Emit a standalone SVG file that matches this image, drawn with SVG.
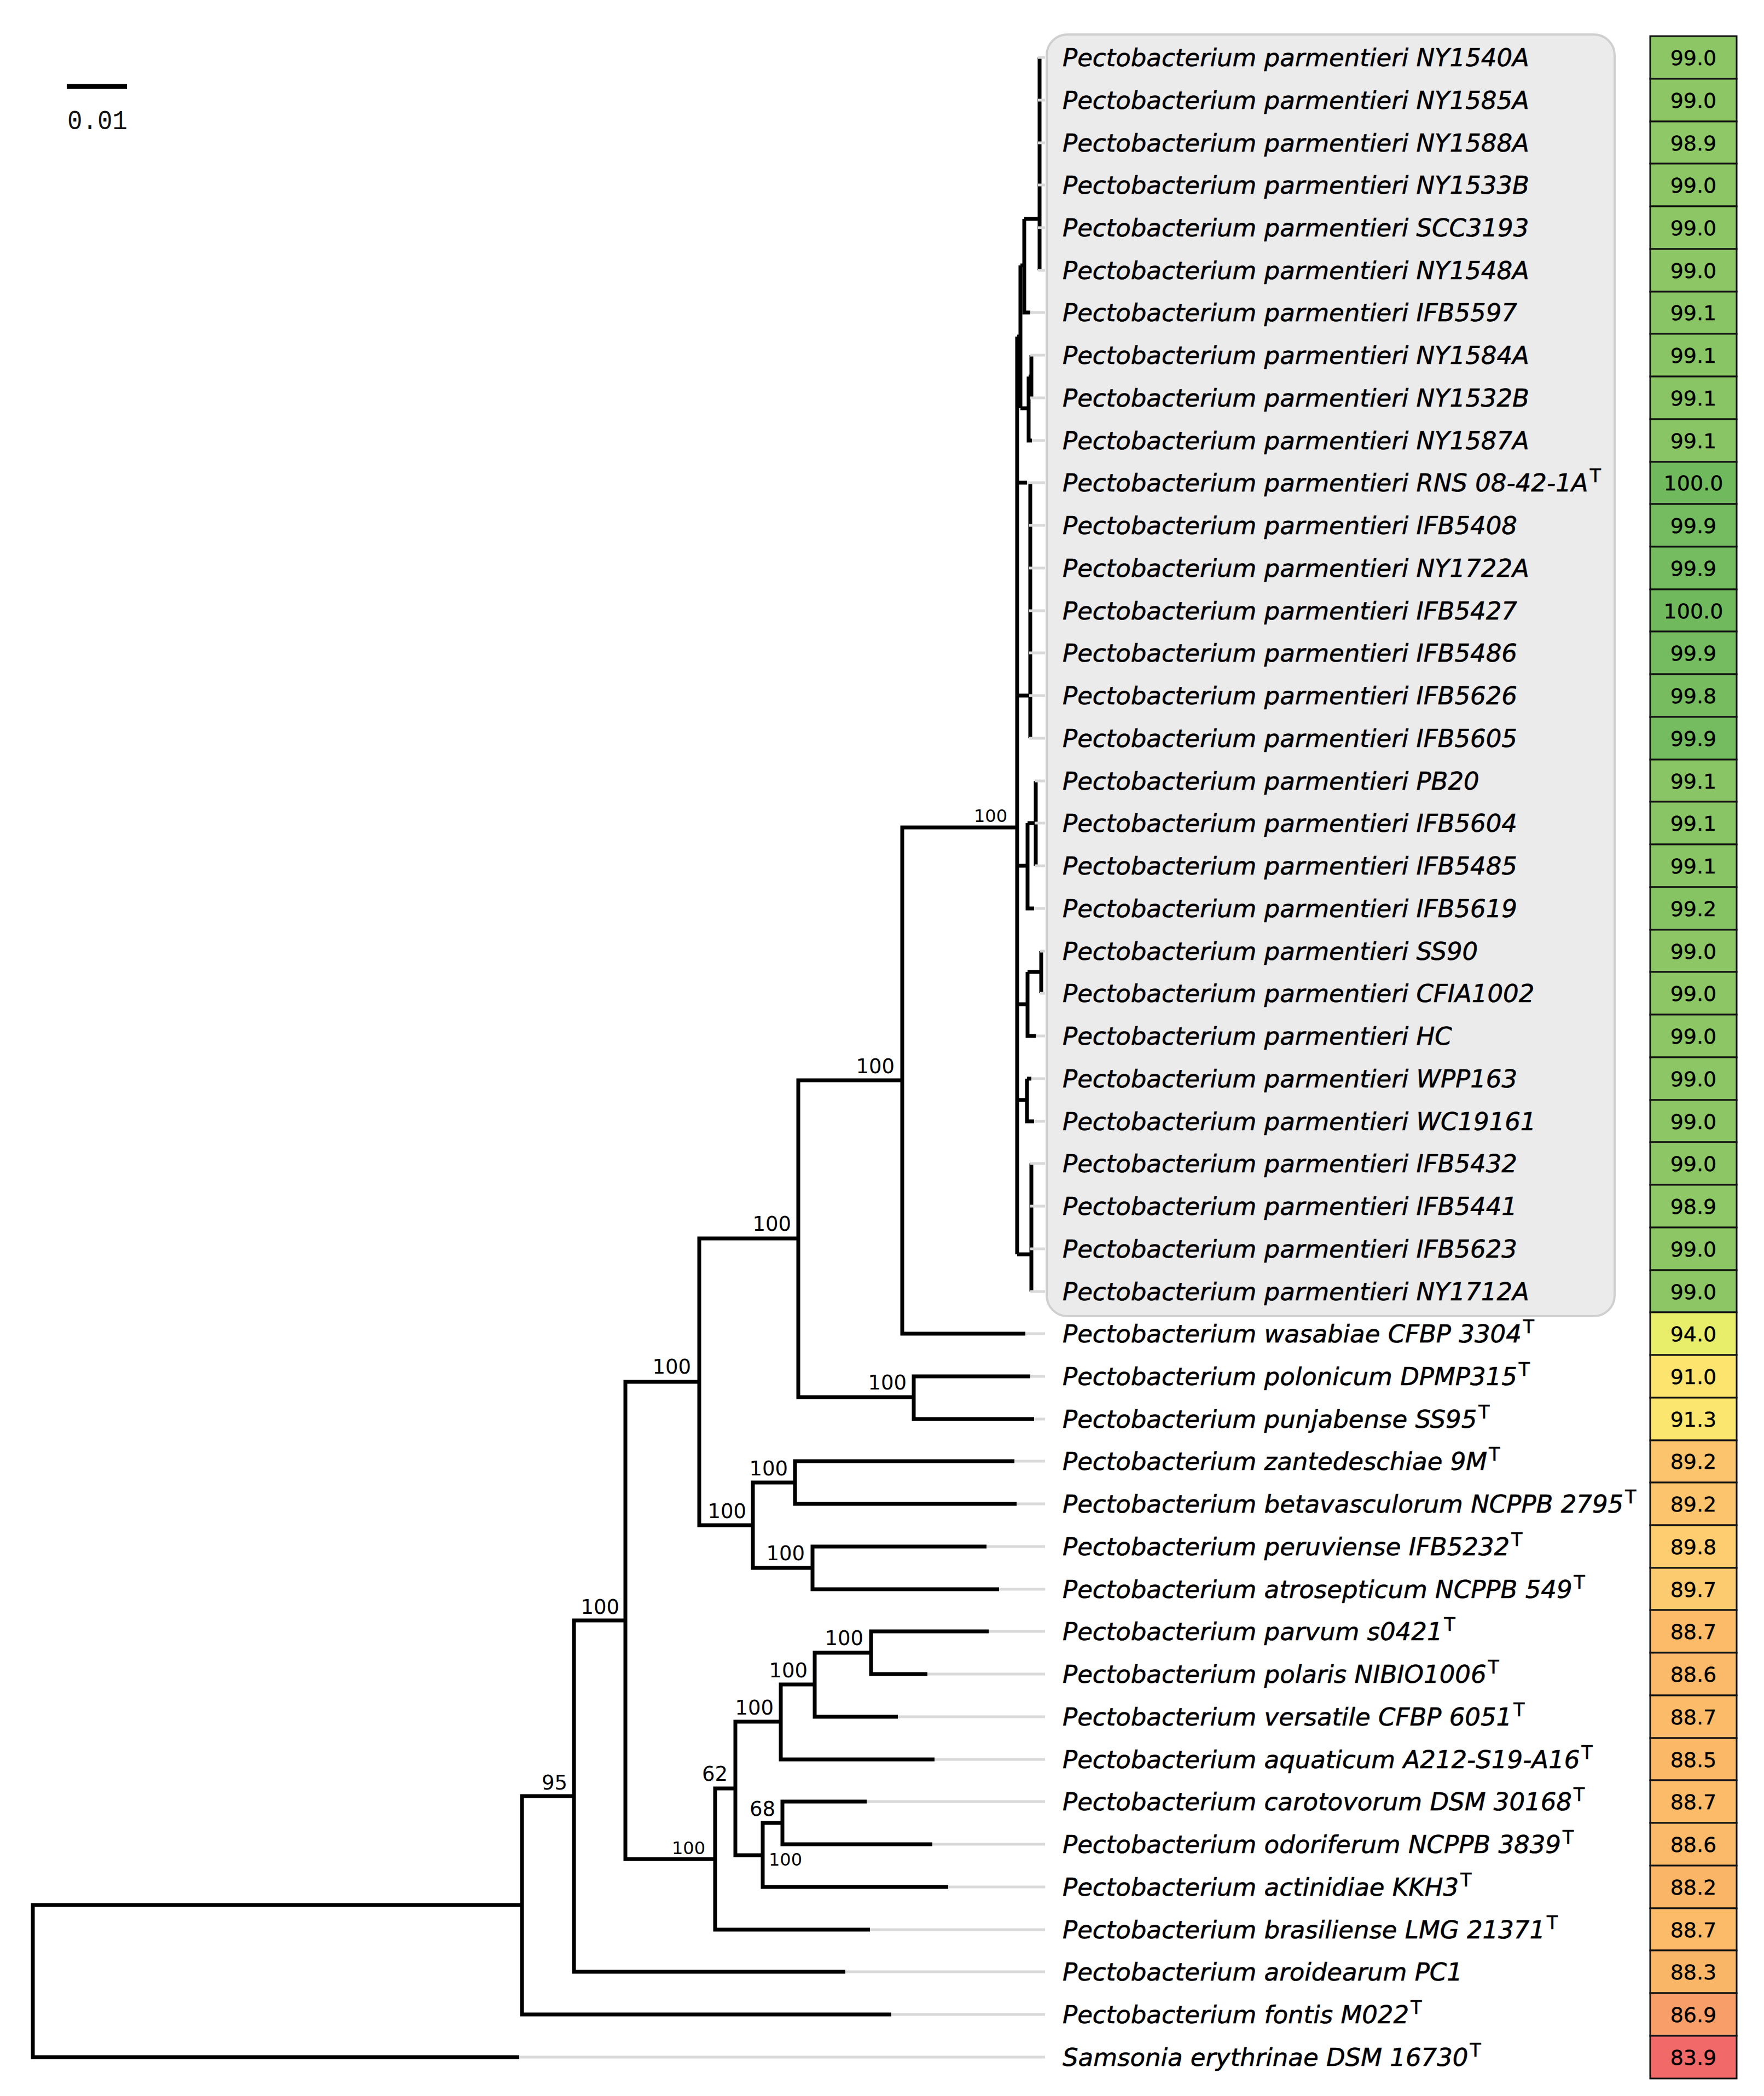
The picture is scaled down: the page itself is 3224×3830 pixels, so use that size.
<svg xmlns="http://www.w3.org/2000/svg" width="3224" height="3830" viewBox="0 0 3224 3830">
<style>
.br{fill:none;stroke:#000;stroke-width:7;stroke-linejoin:miter;stroke-linecap:butt}
.tip{fill:none;stroke:#d9d9d9;stroke-width:5}
.lbl{font-family:'DejaVu Sans',sans-serif;font-style:italic;font-size:45px;fill:#000;stroke:#000;stroke-width:0.6}
.sup{font-size:33px;font-style:normal}
.num{font-family:'DejaVu Sans',sans-serif;font-size:38px;text-anchor:middle;fill:#000;stroke:#000;stroke-width:0.4}
.bs{font-family:'DejaVu Sans',sans-serif;font-size:37px;text-anchor:end;fill:#000}
.bss{font-size:32px}
.box{stroke:#111;stroke-width:3}
.g989{fill:#8fc866}.g990{fill:#8cc665}.g991{fill:#89c564}.g992{fill:#86c363}
.g998{fill:#77bd60}.g999{fill:#74bc5f}.g1000{fill:#70ba5d}
.y940{fill:#e8ee6a}.y910{fill:#fce46f}.y913{fill:#fbe670}
.o892{fill:#fcc46c}.o898{fill:#fdcd6f}.o897{fill:#fdcb6f}
.o887{fill:#fbbb69}.o886{fill:#fbba69}.o885{fill:#fbb968}.o883{fill:#fab667}.o882{fill:#fab567}
.r869{fill:#f89e68}.r839{fill:#f2696a}
</style>
<rect x="0" y="0" width="3224" height="3830" fill="#fff"/>
<rect id="clade-highlight" x="1913" y="63" width="1038" height="2342" rx="38" ry="38" fill="#ebebeb" stroke="#cfcfcf" stroke-width="4"/>

<g id="scale-bar">
<line x1="122" y1="158" x2="232" y2="158" stroke="#000" stroke-width="9"/>
<text x="123" y="236" font-family="'Liberation Mono',monospace" font-size="50" textLength="110" lengthAdjust="spacingAndGlyphs" fill="#111">0.01</text>
</g>

<g id="connectors">
<path class="br" d="M954 3481 H60 V3759 H949"/>
<path class="br" d="M1049 3282 H954 V3681 H1629"/>
<path class="br" d="M1143 2961 H1049 V3603 H1545"/>
<path class="br" d="M1278 2525 H1143 V3397 H1307"/>
<path class="br" d="M1459 2263 H1278 V2787 H1376"/>
<path class="br" d="M1649 1974 H1459 V2553 H1670"/>
<path class="br" d="M1859 1512 H1649 V2437 H1874"/>
<path class="br" d="M1883 2515 H1670 V2593 H1890"/>
<path class="br" d="M1453 2709 H1376 V2865 H1485"/>
<path class="br" d="M1854 2670 H1453 V2748 H1858"/>
<path class="br" d="M1803 2826 H1485 V2904 H1826"/>
<path class="br" d="M1344 3268 H1307 V3526 H1590"/>
<path class="br" d="M1427 3146 H1344 V3390 H1394"/>
<path class="br" d="M1489 3078 H1427 V3215 H1708"/>
<path class="br" d="M1592 3020 H1489 V3137 H1641"/>
<path class="br" d="M1807 2981 H1592 V3059 H1695"/>
<path class="br" d="M1430 3331 H1394 V3448 H1733"/>
<path class="br" d="M1584 3292 H1430 V3370 H1704"/>
<path class="br" d="M1859 615 V2292" stroke-width="9"/>
<path class="br" d="M1859 615 H1865 M1865 485 V746"/>
<path class="br" d="M1865 485 H1872 M1872 400 V571 H1883"/>
<path class="br" d="M1872 400 H1900 M1900 105 V494"/>
<path class="br" d="M1865 746 H1880 M1880 688 V805 H1886"/>
<path class="br" d="M1880 688 H1885 M1885 649 V727"/>
<path class="br" d="M1859 882 H1877"/>
<path class="br" d="M1859 1271 H1883 M1883 882 V1349"/>
<path class="br" d="M1859 1582 H1878 M1878 1504 V1660 H1890 M1878 1504 H1893 M1893 1427 V1582"/>
<path class="br" d="M1859 1835 H1878 M1878 1776 V1893 H1893 M1878 1776 H1903 M1903 1738 V1815"/>
<path class="br" d="M1859 2010 H1877 M1877 1971 V2049 H1890 M1877 1971 H1885"/>
<path class="br" d="M1859 2292 H1885 M1885 2126 V2360"/>
<path class="tip" d="M1897 105H1910M1897 183H1910M1897 261H1910M1897 338H1910M1897 416H1910M1897 494H1910M1883 571H1910M1883 649H1910M1883 727H1910M1886 805H1910M1877 882H1910M1881 960H1910M1881 1038H1910M1881 1116H1910M1881 1193H1910M1881 1271H1910M1881 1349H1910M1891 1427H1910M1891 1504H1910M1891 1582H1910M1890 1660H1910M1901 1738H1910M1901 1815H1910M1893 1893H1910M1885 1971H1910M1890 2049H1910M1883 2126H1910M1883 2204H1910M1883 2282H1910M1883 2360H1910"/>
<path class="tip" d="M1874 2437H1910M1883 2515H1910M1890 2593H1910M1854 2670H1910M1858 2748H1910M1803 2826H1910M1826 2904H1910M1807 2981H1910M1695 3059H1910M1641 3137H1910M1708 3215H1910M1584 3292H1910M1704 3370H1910M1733 3448H1910M1590 3526H1910M1545 3603H1910M1629 3681H1910M949 3759H1910"/>
</g>

<g id="support-values">
<text class="bs bss" x="1841" y="1502">100</text>
<text class="bs" x="1635" y="1961">100</text>
<text class="bs" x="1446" y="2249">100</text>
<text class="bs" x="1263" y="2510">100</text>
<text class="bs" x="1657" y="2539">100</text>
<text class="bs" x="1440" y="2696">100</text>
<text class="bs" x="1364" y="2774">100</text>
<text class="bs" x="1471" y="2851">100</text>
<text class="bs" x="1578" y="3006">100</text>
<text class="bs" x="1476" y="3065">100</text>
<text class="bs" x="1414" y="3133">100</text>
<text class="bs" x="1330" y="3254">62</text>
<text class="bs" x="1417" y="3318">68</text>
<text class="bs bss" x="1466" y="3409">100</text>
<text class="bs bss" x="1289" y="3388">100</text>
<text class="bs" x="1132" y="2949">100</text>
<text class="bs" x="1037" y="3270">95</text>
</g>

<g id="row-00"><text class="lbl" x="1942" y="121">Pectobacterium parmentieri NY1540A</text><rect class="box g990" x="3016" y="66" width="158" height="78"/><text class="num" x="3095" y="119">99.0</text></g>
<g id="row-01"><text class="lbl" x="1942" y="199">Pectobacterium parmentieri NY1585A</text><rect class="box g990" x="3016" y="144" width="158" height="78"/><text class="num" x="3095" y="197">99.0</text></g>
<g id="row-02"><text class="lbl" x="1942" y="277">Pectobacterium parmentieri NY1588A</text><rect class="box g989" x="3016" y="222" width="158" height="77"/><text class="num" x="3095" y="275">98.9</text></g>
<g id="row-03"><text class="lbl" x="1942" y="354">Pectobacterium parmentieri NY1533B</text><rect class="box g990" x="3016" y="299" width="158" height="78"/><text class="num" x="3095" y="352">99.0</text></g>
<g id="row-04"><text class="lbl" x="1942" y="432">Pectobacterium parmentieri SCC3193</text><rect class="box g990" x="3016" y="377" width="158" height="78"/><text class="num" x="3095" y="430">99.0</text></g>
<g id="row-05"><text class="lbl" x="1942" y="510">Pectobacterium parmentieri NY1548A</text><rect class="box g990" x="3016" y="455" width="158" height="78"/><text class="num" x="3095" y="508">99.0</text></g>
<g id="row-06"><text class="lbl" x="1942" y="587">Pectobacterium parmentieri IFB5597</text><rect class="box g991" x="3016" y="533" width="158" height="77"/><text class="num" x="3095" y="585">99.1</text></g>
<g id="row-07"><text class="lbl" x="1942" y="665">Pectobacterium parmentieri NY1584A</text><rect class="box g991" x="3016" y="610" width="158" height="78"/><text class="num" x="3095" y="663">99.1</text></g>
<g id="row-08"><text class="lbl" x="1942" y="743">Pectobacterium parmentieri NY1532B</text><rect class="box g991" x="3016" y="688" width="158" height="78"/><text class="num" x="3095" y="741">99.1</text></g>
<g id="row-09"><text class="lbl" x="1942" y="821">Pectobacterium parmentieri NY1587A</text><rect class="box g991" x="3016" y="766" width="158" height="78"/><text class="num" x="3095" y="819">99.1</text></g>
<g id="row-10"><text class="lbl" x="1942" y="898">Pectobacterium parmentieri RNS 08-42-1A<tspan class="sup" dx="3" dy="-17">T</tspan></text><rect class="box g1000" x="3016" y="844" width="158" height="77"/><text class="num" x="3095" y="896">100.0</text></g>
<g id="row-11"><text class="lbl" x="1942" y="976">Pectobacterium parmentieri IFB5408</text><rect class="box g999" x="3016" y="921" width="158" height="78"/><text class="num" x="3095" y="974">99.9</text></g>
<g id="row-12"><text class="lbl" x="1942" y="1054">Pectobacterium parmentieri NY1722A</text><rect class="box g999" x="3016" y="999" width="158" height="78"/><text class="num" x="3095" y="1052">99.9</text></g>
<g id="row-13"><text class="lbl" x="1942" y="1132">Pectobacterium parmentieri IFB5427</text><rect class="box g1000" x="3016" y="1077" width="158" height="77"/><text class="num" x="3095" y="1130">100.0</text></g>
<g id="row-14"><text class="lbl" x="1942" y="1209">Pectobacterium parmentieri IFB5486</text><rect class="box g999" x="3016" y="1154" width="158" height="78"/><text class="num" x="3095" y="1207">99.9</text></g>
<g id="row-15"><text class="lbl" x="1942" y="1287">Pectobacterium parmentieri IFB5626</text><rect class="box g998" x="3016" y="1232" width="158" height="78"/><text class="num" x="3095" y="1285">99.8</text></g>
<g id="row-16"><text class="lbl" x="1942" y="1365">Pectobacterium parmentieri IFB5605</text><rect class="box g999" x="3016" y="1310" width="158" height="78"/><text class="num" x="3095" y="1363">99.9</text></g>
<g id="row-17"><text class="lbl" x="1942" y="1443">Pectobacterium parmentieri PB20</text><rect class="box g991" x="3016" y="1388" width="158" height="77"/><text class="num" x="3095" y="1441">99.1</text></g>
<g id="row-18"><text class="lbl" x="1942" y="1520">Pectobacterium parmentieri IFB5604</text><rect class="box g991" x="3016" y="1465" width="158" height="78"/><text class="num" x="3095" y="1518">99.1</text></g>
<g id="row-19"><text class="lbl" x="1942" y="1598">Pectobacterium parmentieri IFB5485</text><rect class="box g991" x="3016" y="1543" width="158" height="78"/><text class="num" x="3095" y="1596">99.1</text></g>
<g id="row-20"><text class="lbl" x="1942" y="1676">Pectobacterium parmentieri IFB5619</text><rect class="box g992" x="3016" y="1621" width="158" height="78"/><text class="num" x="3095" y="1674">99.2</text></g>
<g id="row-21"><text class="lbl" x="1942" y="1754">Pectobacterium parmentieri SS90</text><rect class="box g990" x="3016" y="1699" width="158" height="77"/><text class="num" x="3095" y="1752">99.0</text></g>
<g id="row-22"><text class="lbl" x="1942" y="1831">Pectobacterium parmentieri CFIA1002</text><rect class="box g990" x="3016" y="1776" width="158" height="78"/><text class="num" x="3095" y="1829">99.0</text></g>
<g id="row-23"><text class="lbl" x="1942" y="1909">Pectobacterium parmentieri HC</text><rect class="box g990" x="3016" y="1854" width="158" height="78"/><text class="num" x="3095" y="1907">99.0</text></g>
<g id="row-24"><text class="lbl" x="1942" y="1987">Pectobacterium parmentieri WPP163</text><rect class="box g990" x="3016" y="1932" width="158" height="78"/><text class="num" x="3095" y="1985">99.0</text></g>
<g id="row-25"><text class="lbl" x="1942" y="2065">Pectobacterium parmentieri WC19161</text><rect class="box g990" x="3016" y="2010" width="158" height="77"/><text class="num" x="3095" y="2063">99.0</text></g>
<g id="row-26"><text class="lbl" x="1942" y="2142">Pectobacterium parmentieri IFB5432</text><rect class="box g990" x="3016" y="2087" width="158" height="78"/><text class="num" x="3095" y="2140">99.0</text></g>
<g id="row-27"><text class="lbl" x="1942" y="2220">Pectobacterium parmentieri IFB5441</text><rect class="box g989" x="3016" y="2165" width="158" height="78"/><text class="num" x="3095" y="2218">98.9</text></g>
<g id="row-28"><text class="lbl" x="1942" y="2298">Pectobacterium parmentieri IFB5623</text><rect class="box g990" x="3016" y="2243" width="158" height="78"/><text class="num" x="3095" y="2296">99.0</text></g>
<g id="row-29"><text class="lbl" x="1942" y="2376">Pectobacterium parmentieri NY1712A</text><rect class="box g990" x="3016" y="2321" width="158" height="77"/><text class="num" x="3095" y="2374">99.0</text></g>
<g id="row-30"><text class="lbl" x="1942" y="2453">Pectobacterium wasabiae CFBP 3304<tspan class="sup" dx="3" dy="-17">T</tspan></text><rect class="box y940" x="3016" y="2398" width="158" height="78"/><text class="num" x="3095" y="2451">94.0</text></g>
<g id="row-31"><text class="lbl" x="1942" y="2531">Pectobacterium polonicum DPMP315<tspan class="sup" dx="3" dy="-17">T</tspan></text><rect class="box y910" x="3016" y="2476" width="158" height="78"/><text class="num" x="3095" y="2529">91.0</text></g>
<g id="row-32"><text class="lbl" x="1942" y="2609">Pectobacterium punjabense SS95<tspan class="sup" dx="3" dy="-17">T</tspan></text><rect class="box y913" x="3016" y="2554" width="158" height="78"/><text class="num" x="3095" y="2607">91.3</text></g>
<g id="row-33"><text class="lbl" x="1942" y="2686">Pectobacterium zantedeschiae 9M<tspan class="sup" dx="3" dy="-17">T</tspan></text><rect class="box o892" x="3016" y="2632" width="158" height="77"/><text class="num" x="3095" y="2684">89.2</text></g>
<g id="row-34"><text class="lbl" x="1942" y="2764">Pectobacterium betavasculorum NCPPB 2795<tspan class="sup" dx="3" dy="-17">T</tspan></text><rect class="box o892" x="3016" y="2709" width="158" height="78"/><text class="num" x="3095" y="2762">89.2</text></g>
<g id="row-35"><text class="lbl" x="1942" y="2842">Pectobacterium peruviense IFB5232<tspan class="sup" dx="3" dy="-17">T</tspan></text><rect class="box o898" x="3016" y="2787" width="158" height="78"/><text class="num" x="3095" y="2840">89.8</text></g>
<g id="row-36"><text class="lbl" x="1942" y="2920">Pectobacterium atrosepticum NCPPB 549<tspan class="sup" dx="3" dy="-17">T</tspan></text><rect class="box o897" x="3016" y="2865" width="158" height="77"/><text class="num" x="3095" y="2918">89.7</text></g>
<g id="row-37"><text class="lbl" x="1942" y="2997">Pectobacterium parvum s0421<tspan class="sup" dx="3" dy="-17">T</tspan></text><rect class="box o887" x="3016" y="2942" width="158" height="78"/><text class="num" x="3095" y="2995">88.7</text></g>
<g id="row-38"><text class="lbl" x="1942" y="3075">Pectobacterium polaris NIBIO1006<tspan class="sup" dx="3" dy="-17">T</tspan></text><rect class="box o886" x="3016" y="3020" width="158" height="78"/><text class="num" x="3095" y="3073">88.6</text></g>
<g id="row-39"><text class="lbl" x="1942" y="3153">Pectobacterium versatile CFBP 6051<tspan class="sup" dx="3" dy="-17">T</tspan></text><rect class="box o887" x="3016" y="3098" width="158" height="78"/><text class="num" x="3095" y="3151">88.7</text></g>
<g id="row-40"><text class="lbl" x="1942" y="3231">Pectobacterium aquaticum A212-S19-A16<tspan class="sup" dx="3" dy="-17">T</tspan></text><rect class="box o885" x="3016" y="3176" width="158" height="77"/><text class="num" x="3095" y="3229">88.5</text></g>
<g id="row-41"><text class="lbl" x="1942" y="3308">Pectobacterium carotovorum DSM 30168<tspan class="sup" dx="3" dy="-17">T</tspan></text><rect class="box o887" x="3016" y="3253" width="158" height="78"/><text class="num" x="3095" y="3306">88.7</text></g>
<g id="row-42"><text class="lbl" x="1942" y="3386">Pectobacterium odoriferum NCPPB 3839<tspan class="sup" dx="3" dy="-17">T</tspan></text><rect class="box o886" x="3016" y="3331" width="158" height="78"/><text class="num" x="3095" y="3384">88.6</text></g>
<g id="row-43"><text class="lbl" x="1942" y="3464">Pectobacterium actinidiae KKH3<tspan class="sup" dx="3" dy="-17">T</tspan></text><rect class="box o882" x="3016" y="3409" width="158" height="78"/><text class="num" x="3095" y="3462">88.2</text></g>
<g id="row-44"><text class="lbl" x="1942" y="3542">Pectobacterium brasiliense LMG 21371<tspan class="sup" dx="3" dy="-17">T</tspan></text><rect class="box o887" x="3016" y="3487" width="158" height="77"/><text class="num" x="3095" y="3540">88.7</text></g>
<g id="row-45"><text class="lbl" x="1942" y="3619">Pectobacterium aroidearum PC1</text><rect class="box o883" x="3016" y="3564" width="158" height="78"/><text class="num" x="3095" y="3617">88.3</text></g>
<g id="row-46"><text class="lbl" x="1942" y="3697">Pectobacterium fontis M022<tspan class="sup" dx="3" dy="-17">T</tspan></text><rect class="box r869" x="3016" y="3642" width="158" height="78"/><text class="num" x="3095" y="3695">86.9</text></g>
<g id="row-47"><text class="lbl" x="1942" y="3775">Samsonia erythrinae DSM 16730<tspan class="sup" dx="3" dy="-17">T</tspan></text><rect class="box r839" x="3016" y="3720" width="158" height="78"/><text class="num" x="3095" y="3773">83.9</text></g>
</svg>
